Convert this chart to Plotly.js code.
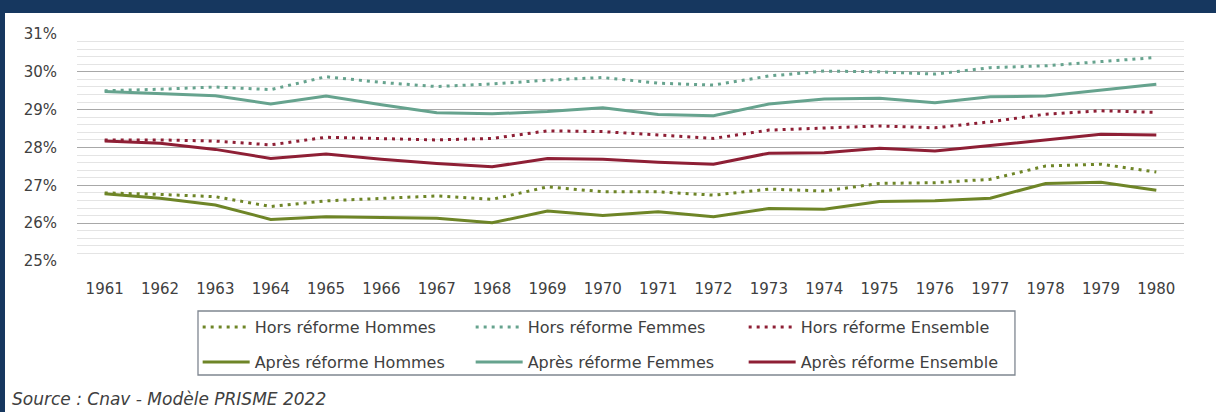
<!DOCTYPE html>
<html>
<head>
<meta charset="utf-8">
<script src="https://cdn.plot.ly/plotly-3.0.1.min.js"></script>
<style>
html,body{margin:0;padding:0;background:#16375f;width:1216px;height:412px;overflow:hidden}
#chart{position:absolute;left:5px;top:13px;width:1211px;height:399px;background:#fff}
</style>
</head>
<body>
<div id="chart"></div>
<script>
const years = [1961,1962,1963,1964,1965,1966,1967,1968,1969,1970,1971,1972,1973,1974,1975,1976,1977,1978,1979,1980];
const yTickLabels = ['25%','26%','27%','28%','29%','30%','31%'];
const yTickVals = [25,26,27,28,29,30,31];

const horsHommes   = [26.80,26.76,26.70,26.44,26.59,26.66,26.72,26.63,26.96,26.83,26.83,26.74,26.90,26.85,27.05,27.07,27.16,27.51,27.56,27.35];
const horsFemmes   = [29.50,29.54,29.60,29.53,29.87,29.72,29.61,29.68,29.78,29.85,29.70,29.65,29.89,30.02,30.00,29.94,30.11,30.16,30.27,30.38];
const horsEnsemble = [28.20,28.20,28.17,28.07,28.27,28.23,28.20,28.24,28.44,28.42,28.33,28.24,28.46,28.51,28.57,28.52,28.68,28.88,28.97,28.93];
const apresHommes   = [26.78,26.66,26.48,26.10,26.17,26.14,26.13,26.01,26.32,26.20,26.30,26.17,26.39,26.37,26.57,26.59,26.66,27.05,27.08,26.87];
const apresFemmes   = [29.48,29.42,29.37,29.15,29.36,29.13,28.92,28.89,28.95,29.05,28.87,28.84,29.15,29.28,29.30,29.18,29.34,29.36,29.52,29.67];
const apresEnsemble = [28.17,28.11,27.95,27.71,27.83,27.69,27.58,27.49,27.71,27.69,27.61,27.56,27.85,27.86,27.98,27.91,28.05,28.20,28.35,28.33];

const seriesNames = ['Hors réforme Hommes','Hors réforme Femmes','Hors réforme Ensemble','Après réforme Hommes','Après réforme Femmes','Après réforme Ensemble'];
const sourceText = 'Source : Cnav - Modèle PRISME 2022';

const GREEN = '#6e8527', TEAL = '#66a38e', RED = '#8e1f35';
const FONT = 'DejaVu Sans, sans-serif';
const TXT = '#404040';
const DOT = '3px,5px';

function tr(y, name, color, dotted, legend) {
  return {
    x: years, y: y, name: name, type: 'scatter', mode: 'lines',
    line: {color: color, width: 3, dash: dotted ? DOT : 'solid'},
    legend: legend, hoverinfo: 'skip'
  };
}

const data = [
  tr(horsHommes, seriesNames[0], GREEN, true, 'legend'),
  tr(horsFemmes, seriesNames[1], TEAL, true, 'legend'),
  tr(horsEnsemble, seriesNames[2], RED, true, 'legend'),
  tr(apresHommes, seriesNames[3], GREEN, false, 'legend2'),
  tr(apresFemmes, seriesNames[4], TEAL, false, 'legend2'),
  tr(apresEnsemble, seriesNames[5], RED, false, 'legend2')
];

const legendBase = {
  orientation: 'h', xanchor: 'left', yanchor: 'middle', x: 0.109,
  entrywidth: 211, entrywidthmode: 'pixels', itemwidth: 47,
  font: {family: FONT, size: 16, color: TXT},
  bgcolor: 'rgba(0,0,0,0)', borderwidth: 0, traceorder: 'normal'
};

const layout = {
  width: 1211, height: 399,
  margin: {l: 72, r: 32, t: 21, b: 151},
  paper_bgcolor: '#ffffff', plot_bgcolor: '#ffffff',
  showlegend: true,
  font: {family: FONT, size: 15, color: TXT},
  xaxis: {
    range: [1960.5, 1980.5], tickmode: 'array', tickvals: years, ticktext: years.map(String),
    showgrid: false, zeroline: false, showline: false,
    ticks: 'outside', ticklen: 14, tickcolor: 'rgba(0,0,0,0)',
    tickfont: {family: FONT, size: 15, color: TXT}
  },
  yaxis: {
    range: [25, 31], tickmode: 'array', tickvals: yTickVals, ticktext: yTickLabels,
    showgrid: true, gridcolor: '#a8a8a8', gridwidth: 1,
    minor: {dtick: 0.2, tick0: 25, showgrid: true, gridcolor: '#e4e4e4', gridwidth: 1},
    zeroline: false, showline: false,
    ticks: 'outside', ticklen: 16, tickcolor: 'rgba(0,0,0,0)',
    tickfont: {family: FONT, size: 15, color: TXT}
  },
  legend: Object.assign({}, legendBase, {y: -0.2907}),
  legend2: Object.assign({}, legendBase, {y: -0.4449}),
  shapes: [{
    type: 'rect', xref: 'paper', yref: 'paper',
    x0: 0.1093, x1: 0.8473, y0: -0.2203, y1: -0.5022,
    line: {color: '#7f8690', width: 1.3}, fillcolor: 'rgba(0,0,0,0)'
  }],
  annotations: [{
    text: sourceText, xref: 'paper', yref: 'paper',
    x: -0.0605, y: -0.608, xanchor: 'left', yanchor: 'middle', showarrow: false,
    font: {family: FONT, size: 17, color: TXT, style: 'italic'}
  }]
};

Plotly.newPlot('chart', data, layout, {staticPlot: true, displayModeBar: false});
</script>
</body>
</html>
